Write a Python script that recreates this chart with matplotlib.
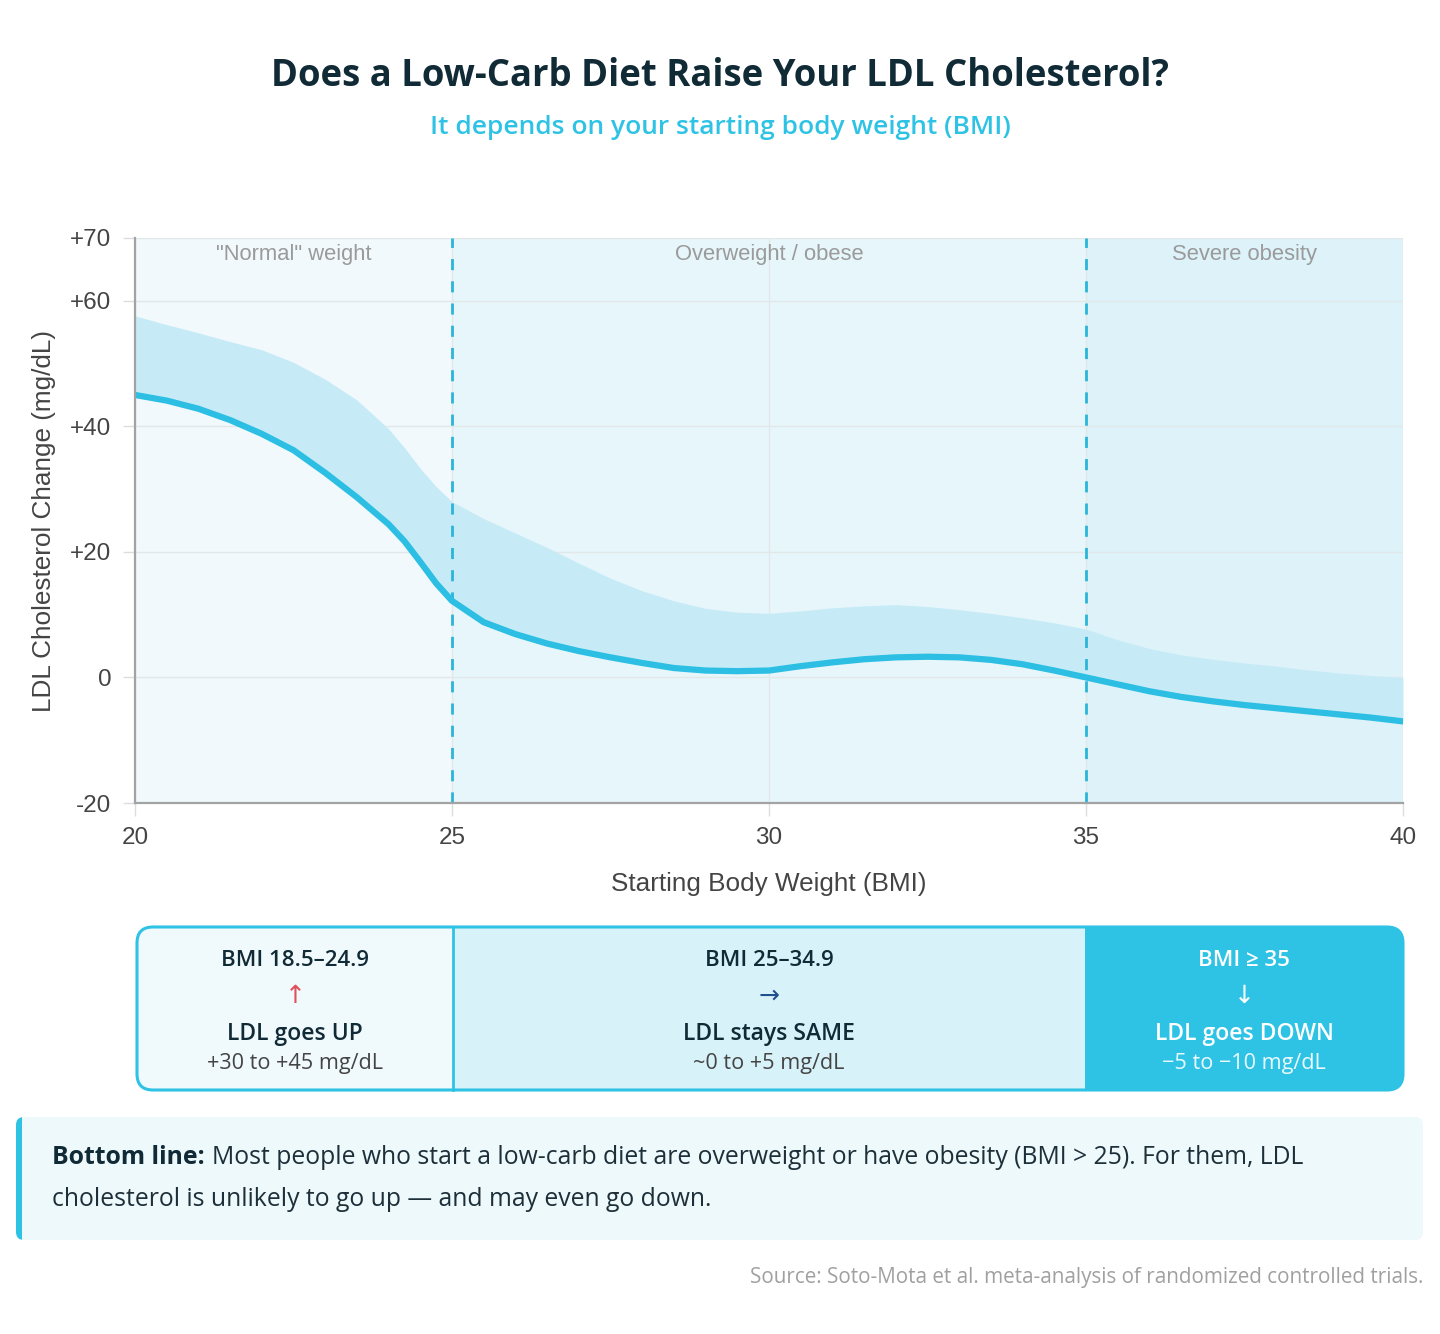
import numpy as np
import matplotlib
matplotlib.use("Agg")
import matplotlib.pyplot as plt
from matplotlib.patches import FancyBboxPatch, Rectangle

# ---------------------------------------------------------------------------
# Data
# ---------------------------------------------------------------------------
bmi = [20, 20.5, 21, 21.5, 22, 22.5, 23, 23.5, 24, 24.25, 24.5, 24.75, 25,
       25.5, 26, 26.5, 27, 27.5, 28, 28.5, 29, 29.5, 30, 30.5, 31, 31.5, 32,
       32.5, 33, 33.5, 34, 34.5, 35, 35.5, 36, 36.5, 37, 37.5, 38, 38.5, 39,
       39.5, 40]
ldl_change = [45.0, 44.1, 42.8, 41.0, 38.8, 36.2, 32.6, 28.7, 24.4, 21.7,
              18.4, 15.0, 12.2, 8.8, 6.9, 5.4, 4.2, 3.2, 2.3, 1.5, 1.1, 1.0,
              1.1, 1.8, 2.4, 2.9, 3.2, 3.3, 3.2, 2.8, 2.1, 1.1, 0.0, -1.1,
              -2.2, -3.1, -3.8, -4.4, -4.9, -5.4, -5.9, -6.4, -7.0]
ldl_upper = [57.6, 56.2, 54.9, 53.5, 52.2, 50.2, 47.5, 44.2, 39.6, 36.6,
             33.3, 30.4, 28.0, 25.3, 23.0, 20.7, 18.2, 15.8, 13.8, 12.2,
             11.0, 10.4, 10.2, 10.6, 11.1, 11.4, 11.6, 11.3, 10.8, 10.2, 9.5,
             8.7, 7.7, 6.0, 4.6, 3.6, 2.9, 2.3, 1.8, 1.2, 0.7, 0.3, 0.0]

zone_edges = [20, 25, 35, 40]
zone_names = ['"Normal" weight', "Overweight / obese", "Severe obesity"]

x_ticks = [20, 25, 30, 35, 40]
y_ticks = [-20, 0, 20, 40, 60, 70]
y_tick_labels = ["-20", "0", "+20", "+40", "+60", "+70"]

cards = [
    ("BMI 18.5–24.9", "↑", "LDL goes UP", "+30 to +45 mg/dL"),
    ("BMI 25–34.9", "→", "LDL stays SAME", "~0 to +5 mg/dL"),
    ("BMI ≥ 35", "↓", "LDL goes DOWN", "−5 to −10 mg/dL"),
]

# ---------------------------------------------------------------------------
# Palette
# ---------------------------------------------------------------------------
NAVY = "#102a36"
CYAN = "#2ec3e5"
LINE = "#2cbfe3"
BAND = "#c6ebf7"
ZONE_BG = ["#f1f9fc", "#e6f6fb", "#ddf2f9"]
CARD_BG = ["#f0f9fc", "#d8f2f9", CYAN]
ARROW_COL = ["#e0505a", "#1f4f8f", "white"]
TICK_TXT = "#444444"
GRID = "#e2e8ea"
SANS = ["Open Sans", "DejaVu Sans"]
CHART_FONT = ["Liberation Sans", "DejaVu Sans"]

W, H = 1440, 1334
fig = plt.figure(figsize=(W / 100, H / 100), dpi=100)
fig.patch.set_facecolor("white")

# overlay in pixel units (y down) for the text blocks and cards
ov = fig.add_axes([0, 0, 1, 1], zorder=0)
ov.set_xlim(0, W)
ov.set_ylim(H, 0)
ov.axis("off")

# ---------------------------------------------------------------------------
# Titles
# ---------------------------------------------------------------------------
ov.text(720, 76, "Does a Low-Carb Diet Raise Your LDL Cholesterol?",
        ha="center", va="center", fontsize=26.3, fontweight="bold",
        color=NAVY, family=SANS)
ov.text(720, 128, "It depends on your starting body weight (BMI)",
        ha="center", va="center", fontsize=19, fontweight="semibold",
        color=CYAN, family=SANS)

# ---------------------------------------------------------------------------
# Main chart
# ---------------------------------------------------------------------------
ax = fig.add_axes([135 / W, 1 - 803 / H, (1403 - 135) / W, (803 - 238) / H],
                  zorder=2)
ax.set_facecolor("none")
for i in range(3):
    ax.axvspan(zone_edges[i], zone_edges[i + 1], color=ZONE_BG[i],
               lw=0, zorder=0)

ax.fill_between(bmi, ldl_change, ldl_upper, color=BAND, lw=0, zorder=2)
ax.plot(bmi, ldl_change, color=LINE, lw=4.5, solid_capstyle="round",
        solid_joinstyle="round", zorder=4)

for xb in zone_edges[1:3]:
    ax.axvline(xb, color="#2ab5d9", lw=2, dashes=(4, 4), zorder=3)

for i, name in enumerate(zone_names):
    ax.text((zone_edges[i] + zone_edges[i + 1]) / 2, 67.3, name,
            ha="center", va="center", fontsize=15.8, color="#9a9a9a",
            family=CHART_FONT, zorder=5)

ax.set_xlim(20, 40)
ax.set_ylim(-20, 70)
ax.set_xticks(x_ticks)
ax.set_yticks(y_ticks)
ax.set_yticklabels(y_tick_labels)
ax.grid(True, color=GRID, lw=1, zorder=1)
ax.set_axisbelow(True)
for s in ["top", "right"]:
    ax.spines[s].set_visible(False)
for s in ["left", "bottom"]:
    ax.spines[s].set_color("#a3a3a3")
    ax.spines[s].set_linewidth(1.6)
    ax.spines[s].set_zorder(6)
ax.tick_params(length=9, color="#dddddd", width=1, labelcolor=TICK_TXT,
               labelsize=17.5, pad=8)
for lab in ax.get_xticklabels() + ax.get_yticklabels():
    lab.set_family(CHART_FONT)
ax.set_xlabel("Starting Body Weight (BMI)", fontsize=18.8, color=TICK_TXT,
              family=CHART_FONT, labelpad=17)
ax.set_ylabel("LDL Cholesterol Change (mg/dL)", fontsize=18.8,
              color=TICK_TXT, family=CHART_FONT, labelpad=10)

# ---------------------------------------------------------------------------
# Summary cards
# ---------------------------------------------------------------------------
cx0, cx1, cy0, cy1 = 137, 1403, 927, 1090
cell_edges = [cx0, 453, 1085, cx1]
outline = FancyBboxPatch((cx0, cy0), cx1 - cx0, cy1 - cy0,
                         boxstyle="round,pad=0,rounding_size=16",
                         transform=ov.transData, facecolor="none",
                         edgecolor="none")
ov.add_patch(outline)
for i, (head, arrow, main, sub) in enumerate(cards):
    r = Rectangle((cell_edges[i], cy0), cell_edges[i + 1] - cell_edges[i],
                  cy1 - cy0, facecolor=CARD_BG[i], edgecolor="none")
    ov.add_patch(r)
    r.set_clip_path(outline)
    mid = (cell_edges[i] + cell_edges[i + 1]) / 2
    dark = i < 2
    ov.text(mid, 960, head, ha="center", va="center", fontsize=16,
            fontweight="semibold", color=NAVY if dark else "white",
            family=SANS)
    ov.text(mid, 996, arrow, ha="center", va="center", fontsize=18,
            color=ARROW_COL[i], family=["DejaVu Sans"])
    ov.text(mid, 1034, main, ha="center", va="center", fontsize=16.5,
            fontweight="semibold", color=NAVY if dark else "white",
            family=SANS)
    ov.text(mid, 1064, sub, ha="center", va="center", fontsize=15.6,
            color="#444444" if dark else "#eafaff", family=SANS)
ov.plot([453, 453], [cy0, cy1], color=CYAN, lw=2)
ov.add_patch(FancyBboxPatch((cx0, cy0), cx1 - cx0, cy1 - cy0,
                            boxstyle="round,pad=0,rounding_size=16",
                            facecolor="none", edgecolor=CYAN, lw=2.2))

# ---------------------------------------------------------------------------
# Bottom line note
# ---------------------------------------------------------------------------
bx0, bx1, by0, by1 = 16, 1423, 1117, 1240
note = FancyBboxPatch((bx0, by0), bx1 - bx0, by1 - by0,
                      boxstyle="round,pad=0,rounding_size=8",
                      facecolor="#eef9fc", edgecolor="none")
ov.add_patch(note)
bar = Rectangle((bx0, by0), 6, by1 - by0, facecolor=CYAN, edgecolor="none")
ov.add_patch(bar)
bar.set_clip_path(note)

bold = ov.text(52, 1158, "Bottom line:", ha="left", va="center",
               fontsize=17.8, fontweight="bold", color=NAVY, family=SANS)
fig.canvas.draw()
bb = bold.get_window_extent().transformed(ov.transData.inverted())
ov.text(bb.x1 + 7, 1158,
        "Most people who start a low-carb diet are overweight or have "
        "obesity (BMI > 25). For them, LDL",
        ha="left", va="center", fontsize=17.8, color="#1d2f38", family=SANS)
ov.text(52, 1200, "cholesterol is unlikely to go up — and may even go down.",
        ha="left", va="center", fontsize=17.8, color="#1d2f38", family=SANS)

ov.text(1423, 1277,
        "Source: Soto-Mota et al. meta-analysis of randomized controlled trials.",
        ha="right", va="center", fontsize=14.9, color="#a0a0a0", family=SANS)

fig.savefig("out.png", dpi=100, facecolor="white")
